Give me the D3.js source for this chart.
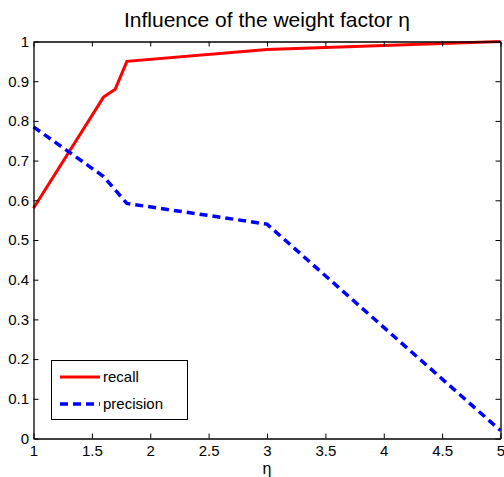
<!DOCTYPE html>
<html>
<head>
<meta charset="utf-8">
<script src="https://cdn.jsdelivr.net/npm/d3@7"></script>
<style>
  body { margin: 0; background: #fff; }
  text { font-family: "Liberation Sans", Arial, sans-serif; fill: #000; }
</style>
</head>
<body>
<svg id="chart" width="504" height="477"></svg>
<script>
// Data
const recallX = [1, 1.6, 1.7, 1.8, 3, 5];
const recallY = [0.58, 0.86, 0.88, 0.95, 0.98, 1.0];
const precisionX = [1, 1.6, 1.8, 3, 5];
const precisionY = [0.785, 0.66, 0.592, 0.54, 0.02];
const xTicks = [1, 1.5, 2, 2.5, 3, 3.5, 4, 4.5, 5];
const yTicks = [0, 0.1, 0.2, 0.3, 0.4, 0.5, 0.6, 0.7, 0.8, 0.9, 1];

const svg = d3.select('#chart');
const plotLeft = 33.5, plotRight = 500.5, plotTop = 41.5, plotBottom = 438.5;

const x = d3.scaleLinear().domain([1, 5]).range([plotLeft, plotRight]);
const y = d3.scaleLinear().domain([0, 1]).range([plotBottom, plotTop]);

// Title
svg.append('text')
  .attr('x', 267).attr('y', 27)
  .attr('text-anchor', 'middle')
  .style('font-size', '21px')
  .text('Influence of the weight factor η');

// Lines
const line = d3.line().x(d => x(d[0])).y(d => y(d[1]));

svg.append('path')
  .datum(d3.zip(recallX, recallY))
  .attr('d', line)
  .attr('fill', 'none')
  .attr('stroke', '#ff0000')
  .attr('stroke-width', 3);

svg.append('path')
  .datum(d3.zip(precisionX, precisionY))
  .attr('d', line)
  .attr('fill', 'none')
  .attr('stroke', '#0000ff')
  .attr('stroke-width', 3.5)
  .attr('stroke-dasharray', '8,5');

// Axes (ticks inward, box on all sides)
const xAxis = svg.append('g').attr('transform', `translate(0,${plotBottom})`)
  .call(d3.axisBottom(x).tickValues(xTicks).tickSizeInner(-5).tickSizeOuter(0).tickPadding(6.5)
    .tickFormat(d3.format('')));
const yAxis = svg.append('g').attr('transform', `translate(${plotLeft},0)`)
  .call(d3.axisLeft(y).tickValues(yTicks).tickSizeInner(-5).tickSizeOuter(0).tickPadding(4.5)
    .tickFormat(d3.format('')));
svg.append('g').attr('transform', `translate(0,${plotTop})`)
  .call(d3.axisTop(x).tickValues(xTicks).tickSizeInner(-5).tickSizeOuter(0).tickFormat(''));
svg.append('g').attr('transform', `translate(${plotRight},0)`)
  .call(d3.axisRight(y).tickValues(yTicks).tickSizeInner(-5).tickSizeOuter(0).tickFormat(''));

svg.selectAll('.domain').attr('stroke', '#000').attr('stroke-width', 1.3);
svg.selectAll('.tick line').attr('stroke', '#000');
xAxis.selectAll('text').style('font-size', '15px').attr('fill', '#000');
yAxis.selectAll('text').style('font-size', '15px').attr('fill', '#000');

// x label
svg.append('text')
  .attr('x', 267).attr('y', 473.5)
  .attr('text-anchor', 'middle')
  .style('font-size', '16px')
  .text('η');

// Legend
const legend = svg.append('g');
legend.append('rect')
  .attr('x', 51.5).attr('y', 360.5).attr('width', 136).attr('height', 59)
  .attr('fill', '#fff').attr('stroke', '#000').attr('stroke-width', 1);
const items = [
  { name: 'recall', color: '#ff0000', dash: null, w: 3 },
  { name: 'precision', color: '#0000ff', dash: '8,5', w: 3.5 }
];
items.forEach((it, i) => {
  const ly = 377 + i * 27;
  legend.append('line')
    .attr('x1', 60).attr('x2', 100).attr('y1', ly).attr('y2', ly)
    .attr('stroke', it.color).attr('stroke-width', it.w)
    .attr('stroke-dasharray', it.dash);
  legend.append('text')
    .attr('x', 103).attr('y', ly + 5)
    .style('font-size', '15px')
    .text(it.name);
});
</script>
</body>
</html>
